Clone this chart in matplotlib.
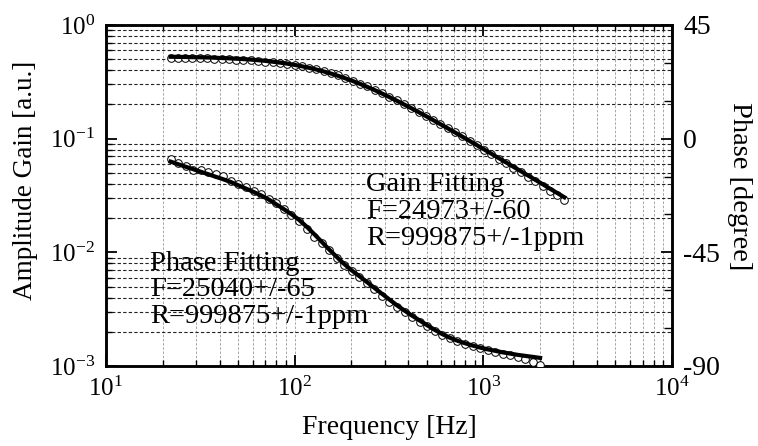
import numpy as np
import matplotlib
matplotlib.use("Agg")
import matplotlib.pyplot as plt
from matplotlib.ticker import MultipleLocator, LogLocator, NullFormatter, FixedFormatter

plt.rcParams['font.family'] = ['Liberation Serif', 'DejaVu Serif']
plt.rcParams['mathtext.fontset'] = 'custom'
plt.rcParams['mathtext.rm'] = 'Liberation Serif'
plt.rcParams['axes.unicode_minus'] = False

# ---- data ----
# amplitude gain (left axis)
gain_freq = [22, 24, 26.3, 28.7, 31.4, 34.3, 37.5, 41, 44.8, 49, 53.5, 58.5, 64, 70,
             76.5, 83.6, 91.4, 100, 109, 119, 130, 143, 156, 170, 186, 204, 223, 243,
             266, 291, 318, 348, 380, 415, 454, 496, 542, 593, 648, 708, 774, 846, 925,
             1011, 1105, 1208, 1320, 1443, 1577, 1724, 1884, 2060, 2251, 2461, 2690]
gain_meas = [0.515, 0.514, 0.513, 0.511, 0.510, 0.508, 0.506, 0.503, 0.500, 0.496,
             0.492, 0.488, 0.483, 0.476, 0.469, 0.461, 0.452, 0.443, 0.434, 0.422,
             0.409, 0.393, 0.377, 0.360, 0.342, 0.324, 0.305, 0.288, 0.270, 0.251,
             0.234, 0.218, 0.202, 0.187, 0.173, 0.159, 0.147, 0.135, 0.124, 0.114,
             0.1045, 0.0955, 0.0875, 0.0800, 0.0731, 0.0667, 0.0610, 0.0557, 0.0508,
             0.0462, 0.0421, 0.0382, 0.0347, 0.0317, 0.0290]
gain_fit = [0.525, 0.524, 0.5225, 0.521, 0.5195, 0.5175, 0.515, 0.512, 0.509, 0.505,
            0.501, 0.496, 0.490, 0.483, 0.475, 0.4665, 0.4565, 0.4454, 0.4335, 0.420,
            0.406, 0.3895, 0.3737, 0.357, 0.339, 0.3206, 0.3025, 0.285, 0.267, 0.249,
            0.232, 0.2156, 0.200, 0.1855, 0.1712, 0.158, 0.1457, 0.134, 0.1233, 0.1133,
            0.1041, 0.0955, 0.0876, 0.0803, 0.0736, 0.0674, 0.0618, 0.0566, 0.0519,
            0.0475, 0.0435, 0.0398, 0.0364, 0.0333, 0.0305]

# phase (right axis, degree)
phase_freq = [22, 24.1, 26.4, 29, 31.8, 34.9, 38.2, 41.9, 46, 50.4, 55.3, 60.6, 66.5,
              72.9, 79.9, 87.6, 96.1, 105, 116, 127, 139, 152, 167, 183, 201, 220, 241,
              265, 290, 318, 349, 383, 420, 460, 505, 553, 607, 665, 729, 800, 877, 961,
              1054, 1156, 1267, 1389, 1523, 1670, 1831, 2000]
phase_meas = [-8.0, -9.8, -10.7, -12.3, -12.6, -13.3, -14.1, -14.8, -16.6, -18.1,
              -19.3, -20.8, -21.9, -23.9, -25.6, -27.8, -30.1, -32.5, -35.7, -38.8,
              -41.5, -44.2, -47.4, -49.9, -52.2, -54.8, -57.3, -59.6, -62.1, -64.5,
              -66.6, -68.8, -70.7, -72.5, -74.3, -76.2, -77.7, -79.0, -80.2, -81.1,
              -81.9, -82.8, -83.7, -84.4, -85.1, -85.7, -86.5, -87.4, -88.5, -89.6]
phase_fit = [-9.1, -10.1, -11.1, -12.1, -13.1, -14.1, -15.1, -16.1, -17.2, -18.5,
             -19.8, -21.1, -22.5, -24.1, -26.0, -27.9, -29.9, -32.0, -34.9, -37.8,
             -40.8, -43.8, -46.8, -49.6, -52.2, -54.4, -56.7, -59.1, -61.4, -63.7,
             -66.0, -68.1, -70.1, -72.0, -73.9, -75.7, -77.4, -78.8, -80.0, -81.0,
             -81.9, -82.7, -83.4, -84.0, -84.6, -85.1, -85.6, -86.0, -86.4, -86.8]

phase_ticks = [-90, -45, 0, 45]
phase_ticklabels = ['-90', '-45', '0', '45']

gain_text = ["Gain Fitting", "F=24973+/-60", "R=999875+/-1ppm"]
phase_text = ["Phase Fitting", "F=25040+/-65", "R=999875+/-1ppm"]

fig = plt.figure(figsize=(7.58, 4.46), dpi=100)
ax = fig.add_axes([0.1398, 0.1794, 0.7467, 0.7646])
ax2 = ax.twinx()

ax.set_xscale('log')
ax.set_yscale('log')
ax.set_xlim(10, 1e4)
ax.set_ylim(1e-3, 1)
ax2.set_ylim(-90, 45)

# grid
ax.xaxis.set_minor_locator(LogLocator(base=10, subs=np.arange(2, 10)))
ax.yaxis.set_minor_locator(LogLocator(base=10, subs=np.arange(2, 10)))
ax.xaxis.set_minor_formatter(NullFormatter())
ax.yaxis.set_minor_formatter(NullFormatter())
ax.grid(True, which='both', axis='x', color='#999999', linestyle=(0, (3, 2)), linewidth=0.6)
ax.grid(True, which='minor', axis='y', color='#222222', linestyle=(0, (3, 2)), linewidth=0.8)

# curves
ax.plot(gain_freq, gain_meas, 'o', mfc='white', mec='black', ms=5.5, mew=0.7, zorder=3)
ax.plot(gain_freq, gain_fit, '-', color='black', lw=3.0, zorder=4)
ax2.plot(phase_freq, phase_meas, 'o', mfc='white', mec='black', ms=5.5, mew=0.7, zorder=3)
ax2.plot(phase_freq, phase_fit, '-', color='black', lw=3.0, zorder=4)

# ticks
ax.tick_params(which='both', direction='in', top=True, right=False, labelsize=18, pad=8)
ax.tick_params(which='major', length=8, width=1.3)
ax.tick_params(which='minor', length=4, width=1.0)
ax2.set_yticks(phase_ticks)
ax2.yaxis.set_major_formatter(FixedFormatter(phase_ticklabels))
ax2.yaxis.set_minor_locator(MultipleLocator(15))
ax2.tick_params(which='both', direction='in', labelsize=20, pad=8)
ax2.tick_params(which='major', length=8, width=1.3)
ax2.tick_params(which='minor', length=6, width=1.0)

for sp in ax.spines.values():
    sp.set_linewidth(1.8)
for sp in ax2.spines.values():
    sp.set_linewidth(1.8)

ax.set_xlabel('Frequency [Hz]', fontsize=20, labelpad=10)
ax.set_ylabel('Amplitude Gain [a.u.]', fontsize=19.5, va='center', ha='center')
ax.yaxis.set_label_coords(-0.143, 0.543)
ax2.set_ylabel('Phase [degree]', fontsize=20.5, rotation=270, va='center', ha='center')
ax2.yaxis.set_label_coords(1.12, 0.528)

# annotations
for i, s in enumerate(gain_text):
    ax.text(0.459, 0.531 - i * 0.078, s, transform=ax.transAxes, fontsize=20.5,
            va='center', ha='left', zorder=5)
for i, s in enumerate(phase_text):
    ax.text(0.078, 0.302 - i * 0.079, s, transform=ax.transAxes, fontsize=20.5,
            va='center', ha='left', zorder=5)

fig.savefig('out.png', dpi=100)
